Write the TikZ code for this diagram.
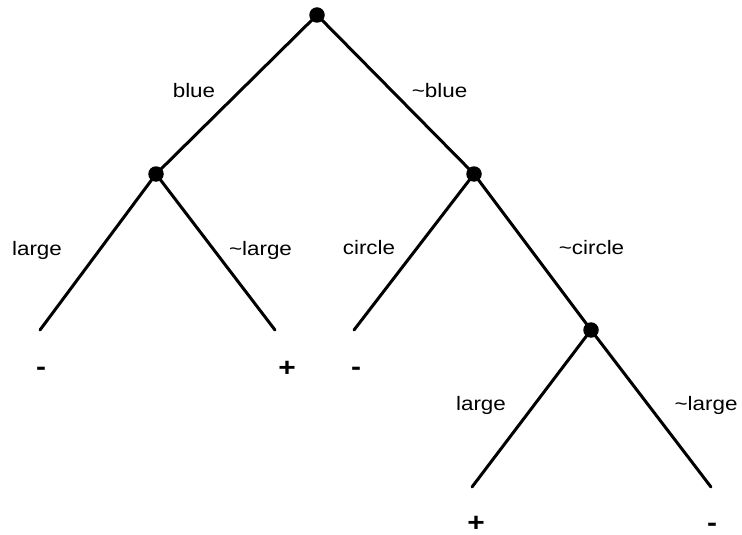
\documentclass[tikz,border=0pt]{standalone}
\usepackage{fontspec}
\setmainfont[FakeStretch=1.15]{Liberation Sans}
\usetikzlibrary{positioning}
\tikzset{
  dtsplit/.style={circle, fill=black, inner sep=0pt, minimum size=15.5pt},
  dtedge/.style={line width=3pt, line cap=round},
  dtlab/.style={font=\fontsize{19.5}{23}\selectfont, inner sep=0pt, anchor=base},
  dtclass/.style={font=\fontsize{26}{30}\selectfont\bfseries, inner sep=0pt, anchor=base}
}

\begin{document}
\begin{tikzpicture}[x=1pt, y=-1pt]
  \useasboundingbox (0,0) rectangle (742,535);
  % split nodes
  \node[dtsplit] (root) at (317,15) {};
  \node[dtsplit] (blue) at (156,174) {};
  \node[dtsplit] (notblue) at (474,174) {};
  \node[dtsplit] (notcircle) at (591,330) {};
  % leaf ends
  \coordinate (blarge) at (40,330);
  \coordinate (bnotlarge) at (275,330);
  \coordinate (circle) at (354,330);
  \coordinate (clarge) at (472,487);
  \coordinate (cnotlarge) at (711,487);
  % branches
  \draw[dtedge] (root.center) -- (blue.center);
  \draw[dtedge] (root.center) -- (notblue.center);
  \draw[dtedge] (blue.center) -- (blarge);
  \draw[dtedge] (blue.center) -- (bnotlarge);
  \draw[dtedge] (notblue.center) -- (circle);
  \draw[dtedge] (notblue.center) -- (notcircle.center);
  \draw[dtedge] (notcircle.center) -- (clarge);
  \draw[dtedge] (notcircle.center) -- (cnotlarge);
  % branch labels
  \node[dtlab] (lblue) at (194,98) {blue};
  \node[dtlab] (lnotblue) at (439.5,98) {\textasciitilde blue};
  \node[dtlab] (lblarge) at (37,255) {large};
  \node[dtlab] (lbnotlarge) at (260.5,255) {\textasciitilde large};
  \node[dtlab] (lcircle) at (369,254) {circle};
  \node[dtlab] (lnotcircle) at (591.5,254) {\textasciitilde circle};
  \node[dtlab] (lclarge) at (481,410) {large};
  \node[dtlab] (lcnotlarge) at (706,410) {\textasciitilde large};
  % classes
  \node[dtclass] (cl1) at (41,375) {-};
  \node[dtclass] (cl2) at (287,376) {+};
  \node[dtclass] (cl3) at (356,375) {-};
  \node[dtclass] (cl4) at (476,531) {+};
  \node[dtclass] (cl5) at (712,531) {-};
\end{tikzpicture}
\end{document}
